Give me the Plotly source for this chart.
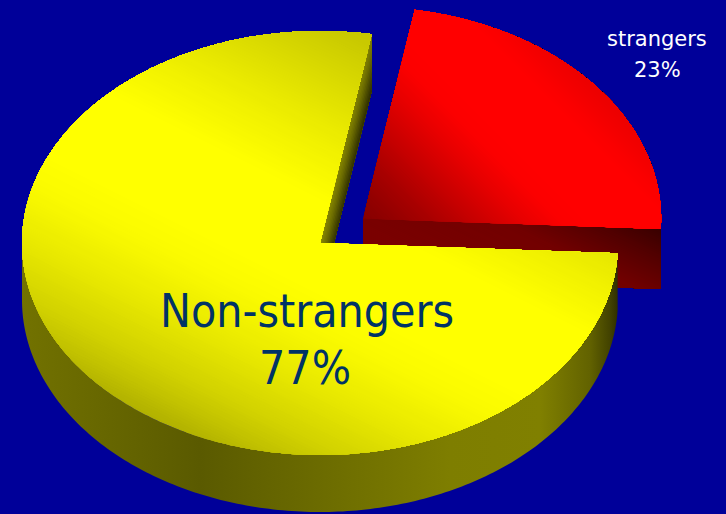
import numpy as np
import plotly.graph_objects as go

# ---------------- data ----------------
categories = ["Non-strangers", "strangers"]
values = [77, 23]
percent_labels = ["77%", "23%"]

# ---------------- geometry / style ----------------
W, H = 726, 514
CX, CY = 320.0, 243.0      # pie centre on screen
RX, RY = 298.0, 212.0      # ellipse radii of the tilted top face
DEPTH = 57.0               # thickness of the pie
START_DEG = 80.0           # angle where the first slice starts (ccw)
PULL = [0.0, 0.185]        # explode fraction per slice
BG = "#000099"

total = float(sum(values))
spans = [v / total * 360.0 for v in values]
starts = [START_DEG]
for s in spans[:-1]:
    starts.append(starts[-1] + s)


def offset(i):
    mid = np.radians(starts[i] + spans[i] / 2.0)
    return PULL[i] * RX * np.cos(mid), -PULL[i] * RY * np.sin(mid)


def rim(t_deg, ox, oy, dz=0.0):
    t = np.radians(np.asarray(t_deg, dtype=float))
    return CX + ox + RX * np.cos(t), CY + oy - RY * np.sin(t) + dz


def clip_half(px, py, w, u0):
    out_x, out_y = [], []
    n = len(px)
    for i in range(n):
        x1, y1 = px[i], py[i]
        x2, y2 = px[(i + 1) % n], py[(i + 1) % n]
        u1 = w[0] * x1 + w[1] * y1 - u0
        u2 = w[0] * x2 + w[1] * y2 - u0
        if u1 >= 0:
            out_x.append(x1); out_y.append(y1)
        if (u1 >= 0) != (u2 >= 0):
            s = u1 / (u1 - u2)
            out_x.append(x1 + s * (x2 - x1)); out_y.append(y1 + s * (y2 - y1))
    fx, fy = [], []
    for a, b in zip(out_x, out_y):
        if fx and abs(a - fx[-1]) < 1e-6 and abs(b - fy[-1]) < 1e-6:
            continue
        fx.append(a); fy.append(b)
    return fx, fy


def ramp(u, stops, base):
    us = [s[0] for s in stops]
    v = float(np.interp(u, us, [s[1] for s in stops]))
    return "rgb(%d,%d,%d)" % tuple(int(round(c * v / 255.0)) for c in base)


fig = go.Figure()


def add_shaded(pieces, w, stops, base, step, name):
    """pieces: list of convex polygons (px, py) forming one face."""
    allu = [w[0] * a + w[1] * b for px, py in pieces for a, b in zip(px, py)]
    umin, umax = min(allu), max(allu)
    u0 = umin
    first = True
    while u0 < umax:
        X, Y = [], []
        for px, py in pieces:
            if first:
                cx_, cy_ = list(px), list(py)
            else:
                cx_, cy_ = clip_half(list(px), list(py), w, u0)
            if len(cx_) >= 3:
                if X:
                    X.append(None); Y.append(None)
                X += cx_ + [cx_[0]]
                Y += cy_ + [cy_[0]]
        first = False
        if X:
            col = ramp(u0 + step / 2.0, stops, base)
            fig.add_trace(go.Scatter(
                x=X, y=Y, mode="lines", fill="toself", fillcolor=col,
                line=dict(width=0, color=col, simplify=False), connectgaps=False,
                hoverinfo="skip", name=name, showlegend=False))
        u0 += step


def wedge(a0, a1, ox, oy, n):
    tt = np.linspace(a0, a1, n)
    rx_, ry_ = rim(tt, ox, oy)
    return [CX + ox] + list(rx_), [CY + oy] + list(ry_)


def wedge_pieces(a0, a1, ox, oy, max_span=140.0, overlap=1.0):
    n_p = int(np.ceil((a1 - a0) / max_span))
    edges = np.linspace(a0, a1, n_p + 1)
    out = []
    for k in range(n_p):
        lo = edges[k]
        hi = min(edges[k + 1] + (overlap if k < n_p - 1 else 0.0), a1)
        out.append(wedge(lo, hi, ox, oy, max(20, int((hi - lo) * 1.5))))
    return out


RED = (255, 0, 0)
YEL = (255, 255, 0)

# ---------------- red slice (behind) ----------------
ri = 1
ox, oy = offset(ri)
r_a0, r_a1 = starts[ri], starts[ri] + spans[ri]
apex_r = (CX + ox, CY + oy)

ex, ey = rim(r_a0, ox, oy)
face = ([apex_r[0], ex, ex, apex_r[0]],
        [apex_r[1], ey, ey + DEPTH + 3, apex_r[1] + DEPTH + 3])
add_shaded([face], (1.0, -2.0),
           [(-90, 122), (60, 114), (140, 84), (200, 58)], RED, 4, categories[ri])

add_shaded(wedge_pieces(r_a0, r_a1, ox, oy), (1.0, -1.0),
           [(140, 132), (170, 145), (210, 168), (250, 196), (300, 230), (340, 252),
            (370, 255), (450, 255), (530, 230)], RED, 3, categories[ri])

# ---------------- yellow slice (front) ----------------
yi = 0
ox, oy = offset(yi)
y_a0, y_a1 = starts[yi], starts[yi] + spans[yi]
apex_y = (CX + ox, CY + oy)

# outer wall, visible from 180 deg to end angle
tt = np.linspace(180.0, y_a1, 200)
tx, ty = rim(tt, ox, oy)
bx, by = rim(tt[::-1], ox, oy, DEPTH)
x0w, x1w = CX - RX, CX + RX


def xs(x):
    return (x - x0w) / (x1w - x0w)


fig.add_trace(go.Scatter(
    x=list(tx) + list(bx) + [tx[0]], y=list(ty) + list(by) + [ty[0]],
    mode="lines", fill="toself", line=dict(width=0, simplify=False), hoverinfo="skip",
    showlegend=False,
    fillgradient=dict(type="horizontal", start=x0w, stop=x1w,
                      colorscale=[[0.0, "#727200"], [xs(200), "#5a5a00"], [xs(450), "#7e7e00"],
                                  [xs(540), "#808000"], [xs(590), "#626200"],
                                  [xs(610), "#424200"], [1.0, "#2e2e00"]])))

# cut face at the start angle
sx, sy = rim(y_a0, ox, oy)
face = ([apex_y[0], sx, sx, apex_y[0]],
        [apex_y[1], sy, sy + DEPTH, apex_y[1] + DEPTH])
add_shaded([face], (1.0, 0.24), [(376, 150), (384, 110), (394, 42)], YEL, 1.5,
           categories[yi])

# top face (split into convex pieces)
add_shaded(wedge_pieces(y_a0, y_a1, ox, oy), (0.5, -1.0),
           [(-380, 160), (-360, 165), (-340, 178), (-315, 194), (-285, 210), (-230, 232),
            (-170, 250), (-130, 255), (-40, 255), (20, 240), (65, 226), (150, 198),
            (200, 192)], YEL, 3, categories[yi])

# ---------------- labels ----------------
big = dict(family="DejaVu Sans Condensed, DejaVu Sans, sans-serif", size=46, color="#003366")
small = dict(family="DejaVu Sans, sans-serif", size=21, color="#ffffff")
annotations = [
    dict(x=306.5, y=310.5, text=categories[0], font=big),
    dict(x=305.0, y=367.5, text=percent_labels[0], font=big),
    dict(x=656.5, y=38.5, text=categories[1], font=small),
    dict(x=657.0, y=69.5, text=percent_labels[1], font=small),
]
for a in annotations:
    a.update(xref="x", yref="y", showarrow=False, xanchor="center", yanchor="middle")

fig.update_layout(
    width=W, height=H, margin=dict(l=0, r=0, t=0, b=0),
    paper_bgcolor=BG, plot_bgcolor=BG, showlegend=False,
    xaxis=dict(range=[0, W], visible=False, fixedrange=True),
    yaxis=dict(range=[H, 0], visible=False, fixedrange=True),
    annotations=annotations,
)

fig.write_html("out.html")
